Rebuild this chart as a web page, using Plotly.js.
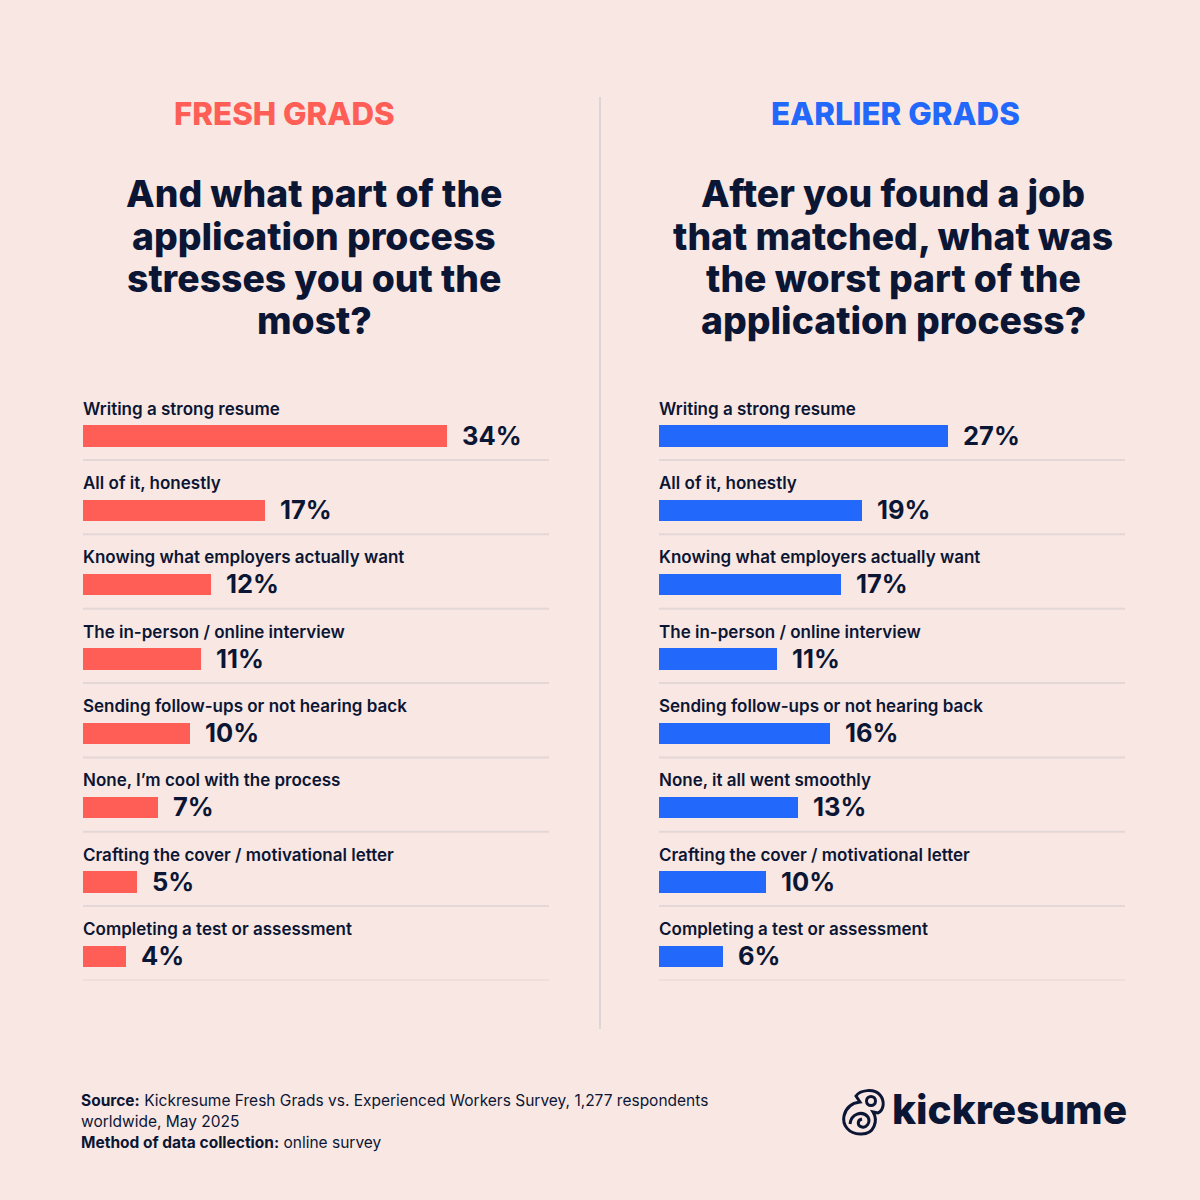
<!DOCTYPE html>
<html><head><meta charset="utf-8">
<script src="https://cdn.plot.ly/plotly-3.0.1.min.js"></script>
<style>html,body{margin:0;padding:0;background:#F9E7E3}</style></head>
<body><div id="chart" style="width:1200px;height:1200px"></div>
<script>
const freshCategories = ["Writing a strong resume","All of it, honestly","Knowing what employers actually want","The in-person / online interview","Sending follow-ups or not hearing back","None, I’m cool with the process","Crafting the cover / motivational letter","Completing a test or assessment"];
const earlierCategories = ["Writing a strong resume","All of it, honestly","Knowing what employers actually want","The in-person / online interview","Sending follow-ups or not hearing back","None, it all went smoothly","Crafting the cover / motivational letter","Completing a test or assessment"];
const freshValues = [34,17,12,11,10,7,5,4];
const earlierValues = [27,19,17,11,16,13,10,6];
const freshTitle = ["And what part of the","application process","stresses you out the","most?"];
const earlierTitle = ["After you found a job","that matched, what was","the worst part of the","application process?"];

const W=1200,H=1200,NAVY="#0B1635",RED="#FF5E57",BLUE="#2268FA",BG="#F9E7E3",SEP="#E3D8D5",FONT="Inter, sans-serif";
const px=x=>x/W, py=y=>1-y/H;
const plotTop=385.7,plotBottom=980.4,rowH=(plotBottom-plotTop)/8,sepOff=24/rowH;

function bar(x,y,color,xa,ya){
  return {type:"bar",orientation:"h",x:x,y:y.map((_,i)=>i),marker:{color:color,line:{width:0}},width:21.5/rowH,xaxis:xa,yaxis:ya,hoverinfo:"skip",showlegend:false};
}
const data=[bar(freshValues,freshCategories,RED,"x","y"),bar(earlierValues,earlierCategories,BLUE,"x2","y2")];
const annotations=[],shapes=[];
function text(t,x,y,size,color,anchor,weight){
  annotations.push({text:t,x:px(x),y:py(y),xref:"paper",yref:"paper",xanchor:anchor,yanchor:"middle",showarrow:false,font:{family:FONT,size:size,color:color,weight:weight},align:anchor});
}
function panel(cats,vals,xa,ya){
  cats.forEach((c,i)=>{
    annotations.push({text:c,x:0,y:i,xref:xa,yref:ya,xanchor:"left",yanchor:"middle",xshift:-2,yshift:27.5,showarrow:false,font:{family:FONT,size:17,color:NAVY,weight:600}});
    annotations.push({text:vals[i]+"%",x:vals[i],y:i,xref:xa,yref:ya,xanchor:"left",yanchor:"middle",xshift:13,yshift:1,showarrow:false,font:{family:FONT,size:25.5,color:NAVY,weight:700}});
    shapes.push({type:"line",xref:xa+" domain",yref:ya,x0:0,x1:1,y0:i+sepOff,y1:i+sepOff,line:{color:SEP,width:2},layer:"below"});
  });
}
panel(freshCategories,freshValues,"x","y");
panel(earlierCategories,earlierValues,"x2","y2");
text("FRESH GRADS",284,114,31.3,RED,"center",800);
text("EARLIER GRADS",895,114,31.3,BLUE,"center",800);
freshTitle.forEach((t,i)=>text(t,314,194+i*42.3,37.3,NAVY,"center",800));
earlierTitle.forEach((t,i)=>text(t,893,194+i*42.3,37.3,NAVY,"center",800));
shapes.push({type:"line",xref:"paper",yref:"paper",x0:px(600),x1:px(600),y0:py(97),y1:py(1029),line:{color:"#DCD6D4",width:2}});
text("<b>Source:</b> Kickresume Fresh Grads vs. Experienced Workers Survey, 1,277 respondents",79,1100,15.5,NAVY,"left",400);
text("worldwide, May 2025",79,1121,15.5,NAVY,"left",400);
text("<b>Method of data collection:</b> online survey",79,1142,15.5,NAVY,"left",400);
text("kickresume",890,1109,40.6,NAVY,"left",800);

// logo emblem, drawn in page pixels and converted to paper fractions
function logoPath(segs){
  return segs.map(s=>{
    const nums=s.slice(1).map((v,i)=>i%2===0?px(v):py(v));
    return s[0]+" "+nums.join(" ");
  }).join(" ");
}
function logo(segs,closed){
  shapes.push({type:"path",xref:"paper",yref:"paper",path:logoPath(segs)+(closed?" Z":""),line:{color:NAVY,width:3},fillcolor:"rgba(0,0,0,0)"});
}
logo([["M",856,1096],["C",860,1090,874,1088,880,1095],["C",885,1101,884,1110,878,1113],["L",873,1112],["C",878,1120,875,1135,860,1134],["C",849,1134,842,1125,844,1116],["C",846,1107,852,1103,860,1102]],true);
logo([["M",875.5,1101],["C",875.5,1095,866.5,1095,866.5,1101],["C",866.5,1107,875.5,1107,875.5,1101]],true);
logo([["M",850,1124],["C",851,1114,862,1110,868,1117],["C",871,1123,866,1128,862,1127],["C",857,1126,857,1120,862,1119]],false);

const xr=[0,466/10.7];
const layout={width:W,height:H,margin:{l:0,r:0,t:0,b:0},paper_bgcolor:BG,plot_bgcolor:BG,showlegend:false,bargap:0,
  xaxis:{domain:[px(83),px(549)],range:xr,visible:false,fixedrange:true},
  xaxis2:{domain:[px(659),px(1125)],range:xr,visible:false,fixedrange:true},
  yaxis:{domain:[py(plotBottom),py(plotTop)],range:[7+sepOff,-1+sepOff],visible:false,fixedrange:true,anchor:"x"},
  yaxis2:{domain:[py(plotBottom),py(plotTop)],range:[7+sepOff,-1+sepOff],visible:false,fixedrange:true,anchor:"x2"},
  annotations:annotations,shapes:shapes};
Plotly.newPlot("chart",data,layout,{displayModeBar:false,staticPlot:true});
</script></body></html>
